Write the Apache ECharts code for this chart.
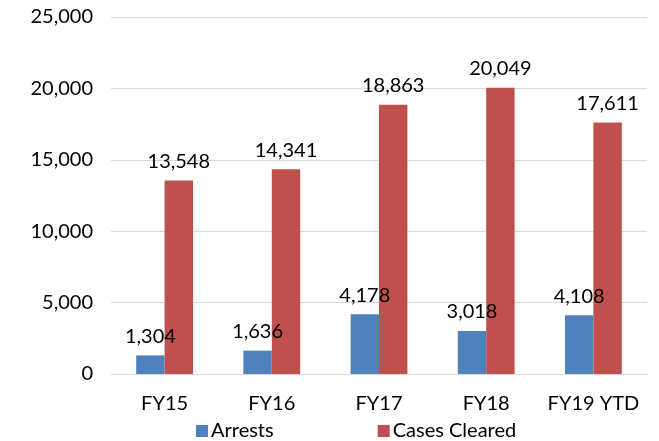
<!DOCTYPE html>
<html>
<head>
<meta charset="utf-8">
<script src="https://cdn.jsdelivr.net/npm/echarts@6/dist/echarts.min.js"></script>
<style>
  html, body { margin: 0; padding: 0; background: #fff; }
  #chart { width: 659px; height: 441px; }
</style>
</head>
<body>
<div id="chart"></div>
<script>
const categories = ["FY15", "FY16", "FY17", "FY18", "FY19 YTD"];
const arrests = [1304, 1636, 4178, 3018, 4108];
const casesCleared = [13548, 14341, 18863, 20049, 17611];

const font = "Lato, 'Open Sans', sans-serif";
const chart = echarts.init(document.getElementById("chart"));

const labelStyle = {
  show: true,
  position: "top",
  distance: 9,
  fontFamily: font,
  fontSize: 20,
  color: "#000",
  formatter: (p) => p.value.toLocaleString("en-US"),
};

chart.setOption({
  animation: false,
  textStyle: { fontFamily: font },
  grid: { left: 111, right: 12, top: 17, bottom: 67 },
  legend: {
    top: 416,
    left: 191,
    itemGap: 104,
    itemWidth: 12,
    itemHeight: 12,
    icon: "rect",
    textStyle: { fontFamily: font, fontSize: 20, color: "#000", padding: [0, 0, 0, -2] },
  },
  xAxis: {
    type: "category",
    data: categories,
    axisLine: { lineStyle: { color: "#d9d9d9" } },
    axisTick: { show: false },
    axisLabel: { interval: 0, fontFamily: font, fontSize: 20, color: "#000", margin: 20 },
  },
  yAxis: {
    type: "value",
    min: 0,
    max: 25000,
    interval: 5000,
    axisLine: { show: false },
    axisTick: { show: false },
    axisLabel: {
      fontFamily: font,
      fontSize: 20,
      color: "#000",
      margin: 18,
      formatter: (v) => v.toLocaleString("en-US"),
    },
    splitLine: { lineStyle: { color: "#d9d9d9" } },
  },
  series: [
    {
      name: "Arrests",
      type: "bar",
      data: arrests,
      barGap: "0%",
      barCategoryGap: "47%",
      itemStyle: { color: "#4f81bd" },
      label: labelStyle,
    },
    {
      name: "Cases Cleared",
      type: "bar",
      data: casesCleared,
      itemStyle: { color: "#c0504d" },
      label: labelStyle,
    },
  ],
});
</script>
</body>
</html>
